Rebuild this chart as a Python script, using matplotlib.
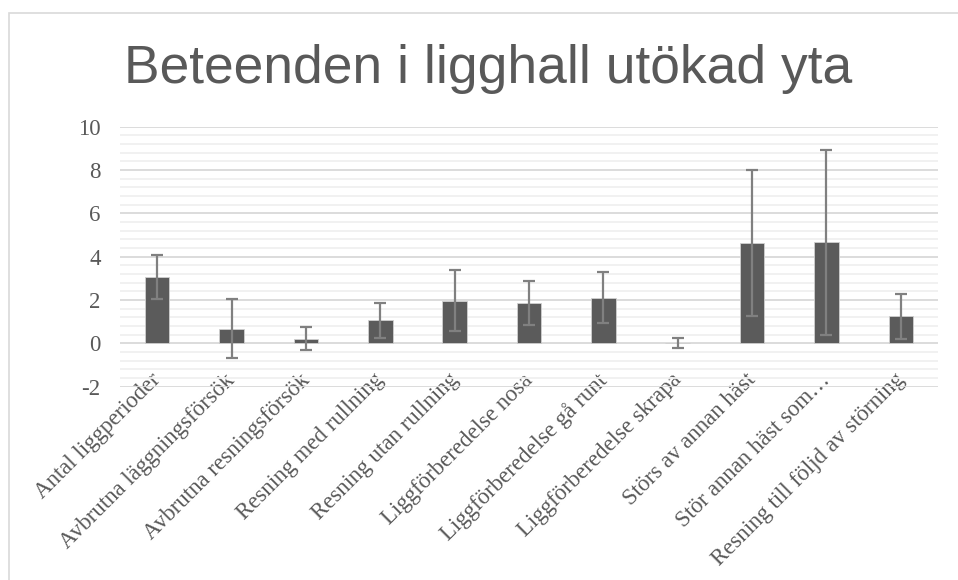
import matplotlib
matplotlib.use("Agg")
import matplotlib.pyplot as plt
import matplotlib.transforms as mtransforms
import numpy as np
from matplotlib.patches import Rectangle

plt.rcParams["axes.unicode_minus"] = False

categories = [
    "Antal liggperioder",
    "Avbrutna läggningsförsök",
    "Avbrutna resningsförsök",
    "Resning med rullning",
    "Resning utan rullning",
    "Liggförberedelse nosa",
    "Liggförberedelse gå runt",
    "Liggförberedelse skrapa",
    "Störs av annan häst",
    "Stör annan häst som…",
    "Resning till följd av störning",
]
means = [3.06, 0.68, 0.21, 1.06, 1.96, 1.86, 2.11, 0.02, 4.62, 4.66, 1.26]
errors = [1.03, 1.35, 0.53, 0.80, 1.41, 1.02, 1.18, 0.23, 3.37, 4.26, 1.04]
yticks = [-2, 0, 2, 4, 6, 8, 10]
title = "Beteenden i ligghall utökad yta"

W, H = 958, 580
fig = plt.figure(figsize=(W / 100, H / 100), dpi=100)

# outer chart frame (extends beyond right/bottom edge)
fig.patches.append(Rectangle((8.5 / W, -0.1), 1.2, 1 - 12.5 / H + 0.1,
                             transform=fig.transFigure, fill=False,
                             edgecolor="#d9d9d9", linewidth=1.2))

ax = fig.add_axes([120 / W, 1 - 386.7 / H, 818 / W, 260 / H])
x = np.arange(len(categories))
ax.bar(x, means, width=0.33, color="#5b5b5b", edgecolor="#d0d0d0",
       linewidth=0.6, zorder=3)
ax.errorbar(x, means, yerr=errors, fmt="none", ecolor="#808080",
            elinewidth=1.6, capsize=4.4, capthick=1.6, zorder=4)

ax.set_xlim(-0.5, len(categories) - 0.5)
ax.set_ylim(-2, 10)
ax.set_yticks(yticks)
ax.set_yticks(np.arange(-2, 10.01, 0.4), minor=True)
ax.grid(axis="y", which="major", color="#d9d9d9", linewidth=1.3, zorder=1)
ax.grid(axis="y", which="minor", color="#f0f0f0", linewidth=1.3, zorder=0)
ax.tick_params(axis="y", which="both", length=0, pad=14)
ax.tick_params(axis="x", length=0, pad=-7)
for s in ax.spines.values():
    s.set_visible(False)

ax.set_xticks(x)
ax.set_xticklabels(categories, rotation=45, ha="right", va="center",
                   rotation_mode="anchor", family="Liberation Serif",
                   fontsize=16.5, color="#595959")
offset = mtransforms.ScaledTranslation(0.5 / 100, 0, fig.dpi_scale_trans)
for lab in ax.get_xticklabels():
    lab.set_transform(lab.get_transform() + offset)
for lab in ax.get_yticklabels():
    lab.set_family("Liberation Serif")
    lab.set_fontsize(16.5)
    lab.set_color("#595959")

fig.text(488.5 / W, 1 - 83 / H, title, ha="center", va="baseline",
         family="Liberation Sans", fontsize=38.4, color="#595959")

fig.savefig("out.png", dpi=100)
